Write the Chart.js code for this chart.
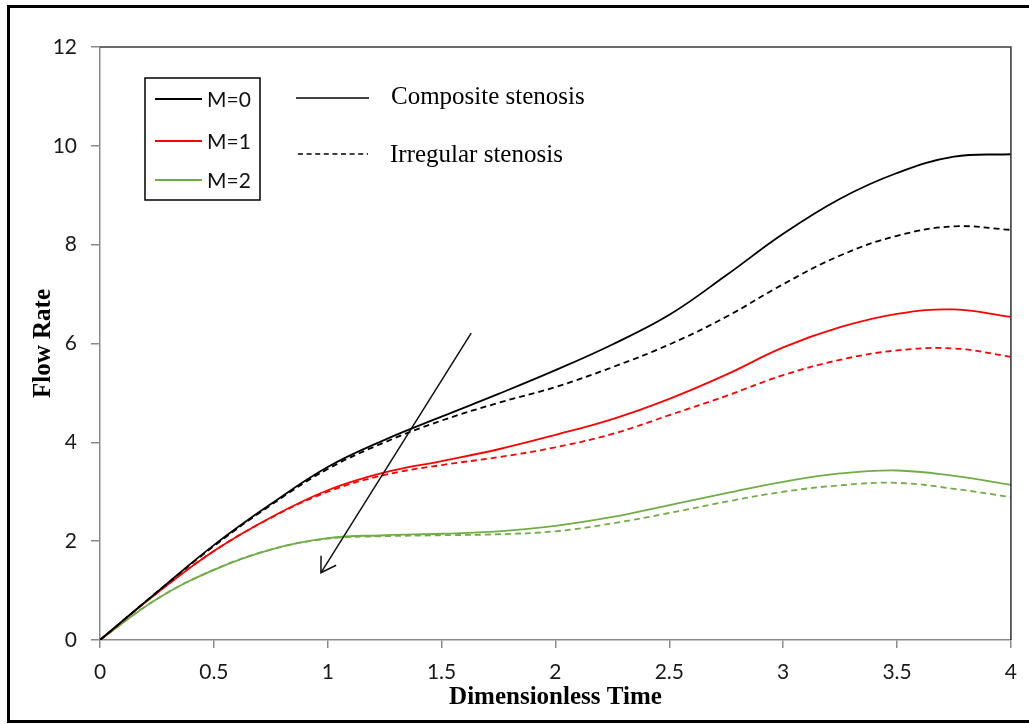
<!DOCTYPE html>
<html>
<head>
<meta charset="utf-8">
<title>Flow Rate vs Dimensionless Time</title>
<script src="https://cdn.jsdelivr.net/npm/chart.js@4.4.1/dist/chart.umd.min.js"></script>
<style>
  html, body { margin: 0; padding: 0; background: #fff; }
  #wrap { position: relative; width: 1029px; height: 724px; }
</style>
</head>
<body>
<div id="wrap"><canvas id="flowChart" width="1029" height="724"></canvas></div>
<script>
// dimensionless time samples
const time = [0, 0.25, 0.5, 0.75, 1, 1.25, 1.5, 1.75, 2, 2.25, 2.5, 2.75, 3, 3.25, 3.5, 3.75, 4];

// flow rate, composite stenosis (solid lines)
const m0Composite = [0, 0.97, 1.92, 2.75, 3.5, 4.05, 4.52, 4.98, 5.46, 5.98, 6.58, 7.38, 8.22, 8.93, 9.45, 9.78, 9.83];
const m1Composite = [0, 0.95, 1.8, 2.48, 3.03, 3.39, 3.62, 3.86, 4.15, 4.47, 4.88, 5.37, 5.92, 6.33, 6.6, 6.69, 6.54];
const m2Composite = [0, 0.83, 1.42, 1.83, 2.06, 2.12, 2.15, 2.2, 2.31, 2.49, 2.73, 2.97, 3.2, 3.37, 3.43, 3.32, 3.14];

// flow rate, irregular stenosis (dashed lines)
const m0Irregular = [0, 0.97, 1.9, 2.73, 3.46, 4.0, 4.44, 4.8, 5.12, 5.52, 5.98, 6.54, 7.2, 7.78, 8.18, 8.37, 8.3];
const m1Irregular = [0, 0.95, 1.8, 2.47, 3.0, 3.34, 3.54, 3.7, 3.9, 4.17, 4.55, 4.94, 5.36, 5.67, 5.86, 5.9, 5.73];
const m2Irregular = [0, 0.83, 1.42, 1.83, 2.05, 2.1, 2.12, 2.14, 2.2, 2.36, 2.57, 2.8, 3.0, 3.13, 3.18, 3.06, 2.89];

const xTicks = [0, 0.5, 1, 1.5, 2, 2.5, 3, 3.5, 4];
const yTicks = [0, 2, 4, 6, 8, 10, 12];

const mLabels = ["M=0", "M=1", "M=2"];
const styleLabels = ["Composite stenosis", "Irregular stenosis"];

// arrow showing increasing M, in data units [time, flow]
const arrowFrom = [1.63, 6.21];
const arrowTo = [0.97, 1.36];

const colors = ["#000000", "#ff0000", "#70ad47"];
const DASH = [6, 4];

const toPoints = vals => time.map((t, i) => ({ x: t, y: vals[i] }));

function lineSet(label, vals, color, dashed) {
    return {
        label,
        data: toPoints(vals),
        borderColor: color,
        borderWidth: 1.8,
        borderDash: dashed ? DASH : [],
        pointRadius: 0,
        fill: false,
        tension: 0.4,
    };
}

const datasets = [
    lineSet("M=0 composite", m0Composite, colors[0], false),
    lineSet("M=0 irregular", m0Irregular, colors[0], true),
    lineSet("M=1 composite", m1Composite, colors[1], false),
    lineSet("M=1 irregular", m1Irregular, colors[1], true),
    lineSet("M=2 composite", m2Composite, colors[2], false),
    lineSet("M=2 irregular", m2Irregular, colors[2], true),
];

// plot frame, arrow, legend box, line-style key and outer border
const decorations = {
    id: "decorations",
    afterDraw(chart) {
        const ctx = chart.ctx;
        const { left, right, top, bottom } = chart.chartArea;
        const xs = chart.scales.x, ys = chart.scales.y;
        ctx.save();

        // top and right edges of the plot area
        ctx.strokeStyle = "#3c3c3c";
        ctx.lineWidth = 1.6;
        ctx.beginPath();
        ctx.moveTo(left, top);
        ctx.lineTo(right, top);
        ctx.lineTo(right, bottom);
        ctx.stroke();

        // arrow
        const x1 = xs.getPixelForValue(arrowFrom[0]), y1 = ys.getPixelForValue(arrowFrom[1]);
        const x2 = xs.getPixelForValue(arrowTo[0]), y2 = ys.getPixelForValue(arrowTo[1]);
        ctx.strokeStyle = "#111";
        ctx.lineWidth = 1.5;
        ctx.beginPath();
        ctx.moveTo(x1, y1);
        ctx.lineTo(x2, y2);
        const back = Math.atan2(y1 - y2, x1 - x2);
        const wing = 17, spread = 0.55;
        ctx.moveTo(x2 + wing * Math.cos(back - spread), y2 + wing * Math.sin(back - spread));
        ctx.lineTo(x2, y2);
        ctx.lineTo(x2 + wing * Math.cos(back + spread), y2 + wing * Math.sin(back + spread));
        ctx.stroke();

        // M legend box
        ctx.strokeStyle = "#000";
        ctx.lineWidth = 1.5;
        ctx.strokeRect(145, 78, 115, 122);
        const rowY = [99, 141, 180];
        ctx.font = "21px Lato, 'Open Sans', sans-serif";
        ctx.textBaseline = "middle";
        ctx.textAlign = "left";
        mLabels.forEach((lab, i) => {
            ctx.strokeStyle = colors[i];
            ctx.lineWidth = 1.8;
            ctx.beginPath();
            ctx.moveTo(155, rowY[i]);
            ctx.lineTo(202, rowY[i]);
            ctx.stroke();
            ctx.fillStyle = "#111";
            ctx.fillText(lab, 207, rowY[i] + 1);
        });

        // line style key
        ctx.strokeStyle = "#000";
        ctx.lineWidth = 1.5;
        ctx.beginPath();
        ctx.moveTo(296, 98);
        ctx.lineTo(369, 98);
        ctx.stroke();
        ctx.setLineDash([5, 3.6]);
        ctx.beginPath();
        ctx.moveTo(298, 154);
        ctx.lineTo(368, 154);
        ctx.stroke();
        ctx.setLineDash([]);
        ctx.font = "25px 'Liberation Serif', 'Times New Roman', serif";
        ctx.fillStyle = "#000";
        ctx.fillText(styleLabels[0], 391, 97);
        ctx.fillText(styleLabels[1], 390, 155);

        // outer border (top, left, bottom)
        ctx.fillStyle = "#000";
        ctx.fillRect(7, 5, 1022, 3);
        ctx.fillRect(7, 5, 3, 718);
        ctx.fillRect(7, 720, 1022, 3);

        ctx.restore();
    }
};

const tickFont = { family: "Lato, 'Open Sans', sans-serif", size: 21 };
const titleFont = { family: "'Liberation Serif', 'Times New Roman', serif", size: 25, weight: "bold" };

new Chart(document.getElementById("flowChart"), {
    type: "line",
    data: { datasets },
    options: {
        responsive: false,
        animation: false,
        devicePixelRatio: 1,
        layout: { padding: { top: 47, right: 17, left: 0, bottom: 0 } },
        plugins: {
            legend: { display: false },
            tooltip: { enabled: false },
        },
        scales: {
            x: {
                type: "linear",
                min: 0,
                max: 4,
                afterBuildTicks: s => { s.ticks = xTicks.map(v => ({ value: v })); },
                afterFit: s => { s.height = 84; },
                ticks: {
                    font: tickFont, color: "#1a1a1a", padding: 12, maxRotation: 0, autoSkip: false,
                    callback: v => String(v),
                },
                grid: { drawOnChartArea: false, drawTicks: true, tickLength: 8, color: "#8a8a8a", lineWidth: 1.5 },
                border: { display: true, color: "#8a8a8a", width: 1.5 },
                title: { display: true, text: "Dimensionless Time", font: titleFont, color: "#000", padding: { bottom: 11 } },
            },
            y: {
                min: 0,
                max: 12,
                afterBuildTicks: s => { s.ticks = yTicks.map(v => ({ value: v })); },
                afterFit: s => { s.width = 100; },
                ticks: { font: tickFont, color: "#1a1a1a", padding: 14, autoSkip: false, callback: v => String(v) },
                grid: { drawOnChartArea: false, drawTicks: true, tickLength: 9, color: "#8a8a8a", lineWidth: 1.5 },
                border: { display: true, color: "#8a8a8a", width: 1.5 },
                title: { display: true, text: "Flow Rate", font: titleFont, color: "#000", padding: { top: 29 } },
            },
        },
    },
    plugins: [decorations],
});
</script>
</body>
</html>
